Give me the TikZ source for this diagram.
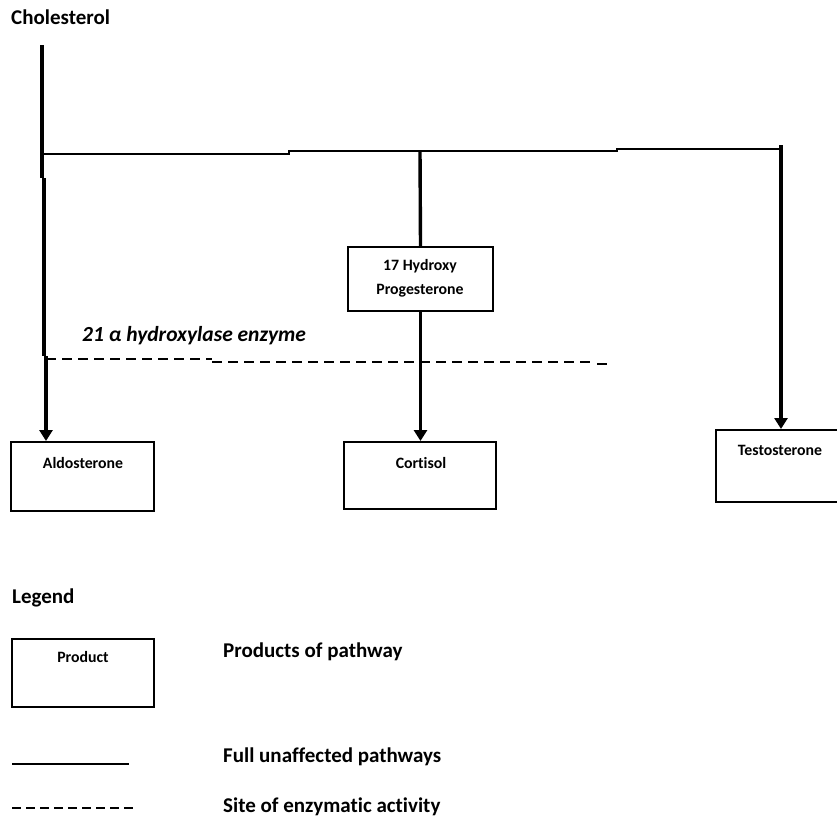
\documentclass[tikz,border=0pt]{standalone}
\usepackage{fontspec}
\setmainfont[Ligatures=NoCommon]{Carlito}
\usetikzlibrary{arrows.meta}
\begin{document}
\begin{tikzpicture}[x=1pt,y=-1pt,
  bigtext/.style={inner sep=0pt, font=\bfseries\fontsize{21}{24}\selectfont},
  smalltext/.style={inner sep=0pt, anchor=base, font=\bfseries\fontsize{15.8}{18}\selectfont},
  enztext/.style={inner sep=0pt, anchor=base west, font=\bfseries\itshape\fontsize{21.5}{24}\selectfont},
  prodbox/.style={draw, line width=2pt, inner sep=0pt},
  thickline/.style={line width=3.4pt},
  thinline/.style={line width=2pt},
  arr/.style={line width=3.4pt, -{Triangle[width=13pt,length=11pt]}},
  enzdash/.style={line width=1.5pt, dash pattern=on 10pt off 6pt},
  legdash/.style={line width=1.5pt, dash pattern=on 9pt off 5pt},
]
\useasboundingbox (0,0) rectangle (837,820);

% top label
\node[bigtext, anchor=base west] (chol) at (11,24) {Cholesterol};

% boxes
\node[prodbox, minimum width=143pt, minimum height=69pt] (aldo) at (82.5,476.5) {};
\node[prodbox, minimum width=152pt, minimum height=67pt] (cort) at (420,475.5) {};
\node[prodbox, minimum width=145pt, minimum height=64pt] (hp) at (420.5,279) {};
\node[prodbox, minimum width=134pt, minimum height=72pt] (test) at (783,466) {};

\node[smalltext] (aldot) at (83,468) {Aldosterone};
\node[smalltext] (cortt) at (421,468) {Cortisol};
\node[smalltext] (testt) at (780,455) {Testosterone};
\node[smalltext] (hpt1) at (420,270) {17 Hydroxy};
\node[smalltext] (hpt2) at (420,294) {Progesterone};

% junction coordinates
\coordinate (c0) at (42,45);
\coordinate (c1) at (42,178);
\coordinate (c2) at (44,178);
\coordinate (c3) at (44,356);
\coordinate (c4) at (46,356);
\coordinate (h0) at (42,154);
\coordinate (h1) at (289,154);
\coordinate (h2) at (289,151);
\coordinate (h3) at (617,151);
\coordinate (h4) at (617,149);
\coordinate (h5) at (781,149);
\coordinate (mtop) at (420,151);
\coordinate (rtop) at (781,145);

% pathways
\draw[thickline] (c0) -- (c1);
\draw[thickline] (c2) -- (c3);
\draw[arr] (c4) -- (c4 |- aldo.north);
\draw[thinline] (h0) -- (h1) -- (h2) -- (h3) -- (h4) -- (h5);
\draw[thickline] (mtop) -- (hp.north);
\draw[arr] (hp.south) -- (hp.south |- cort.north);
\draw[arr] (rtop) -- (rtop |- test.north);

% enzyme site
\node[enztext] (enz) at (82,341) {21 α hydroxylase enzyme};
\coordinate (d0) at (46,359);
\coordinate (d1) at (212,359);
\coordinate (d2) at (212,362);
\coordinate (d3) at (593,362);
\coordinate (d4) at (597,364);
\coordinate (d5) at (607,364);
\draw[enzdash] (d0) -- (d1);
\draw[enzdash] (d2) -- (d3);
\draw[line width=1.5pt] (d4) -- (d5);

% legend
\node[bigtext, anchor=base west] (leg) at (12,603) {Legend};
\node[prodbox, minimum width=142pt, minimum height=68pt] (lbox) at (83,673) {};
\node[smalltext] (lboxt) at (83,662) {Product};
\node[bigtext, anchor=base west] (l1) at (223,657) {Products of pathway};
\coordinate (s0) at (12,764);
\coordinate (s1) at (129,764);
\draw[thinline] (s0) -- (s1);
\node[bigtext, anchor=base west] (l2) at (223,762) {Full unaffected pathways};
\coordinate (e0) at (12,808);
\coordinate (e1) at (135,808);
\draw[legdash] (e0) -- (e1);
\node[bigtext, anchor=base west] (l3) at (223,812) {Site of enzymatic activity};
\end{tikzpicture}
\end{document}
